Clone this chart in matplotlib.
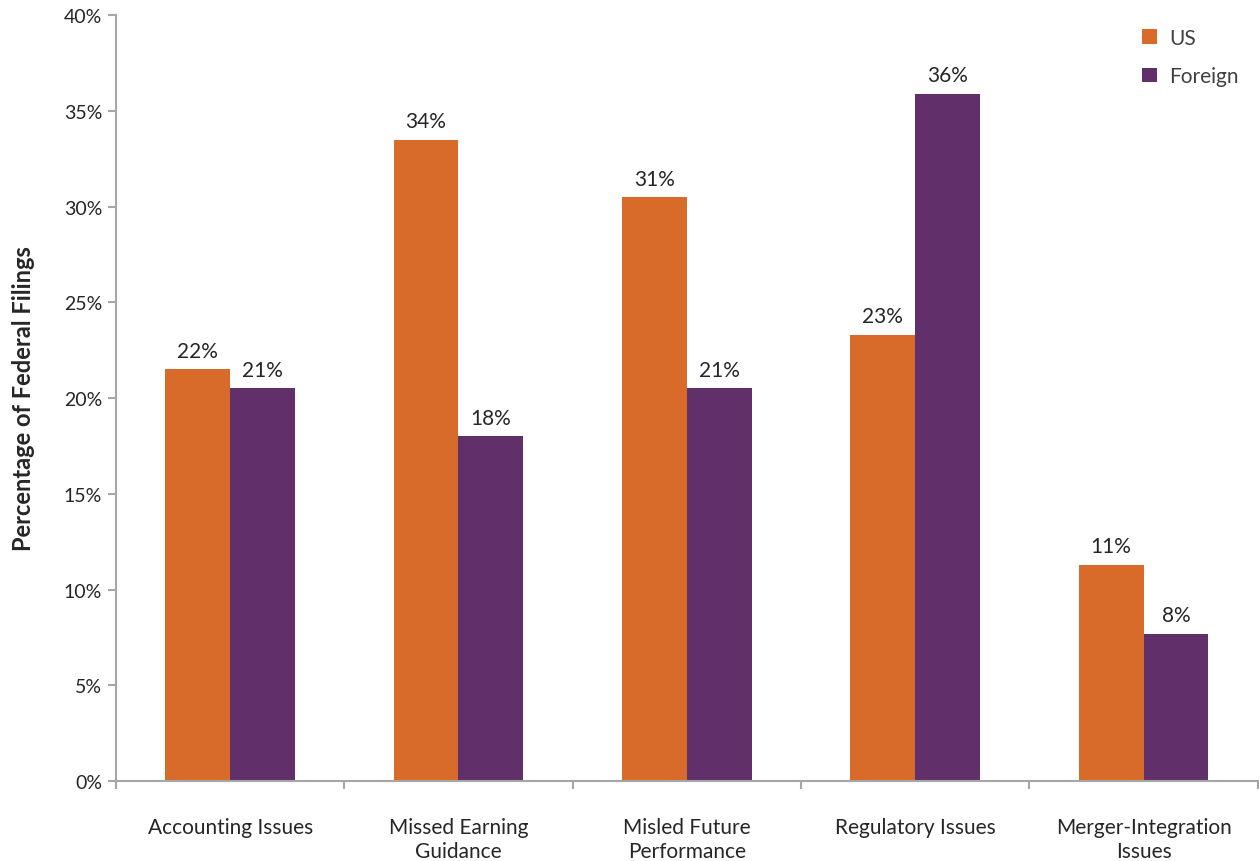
import numpy as np
from matplotlib import pyplot as plt

plt.rcParams['font.family'] = ['Lato', 'DejaVu Sans']

categories = ['Accounting Issues', 'Missed Earning\nGuidance', 'Misled Future\nPerformance',
              'Regulatory Issues', 'Merger-Integration\nIssues']
us = [21.5, 33.5, 30.5, 23.3, 11.3]
foreign = [20.5, 18.0, 20.5, 35.9, 7.7]
us_labels = ['22%', '34%', '31%', '23%', '11%']
foreign_labels = ['21%', '18%', '21%', '36%', '8%']

orange = '#D86B29'
purple = '#612F69'
grey = '#A6A6A6'
txt = '#262626'

fig = plt.figure(figsize=(12.59, 8.62), dpi=100)
ax = fig.add_axes([0.0921, 0.0928, 0.9069, 0.8886])

x = np.arange(len(categories))
w = 0.284
b1 = ax.bar(x - w / 2, us, w, color=orange, label='US')
b2 = ax.bar(x + w / 2, foreign, w, color=purple, label='Foreign')

for bars, labs in ((b1, us_labels), (b2, foreign_labels)):
    for r, lab in zip(bars, labs):
        ax.annotate(lab, (r.get_x() + r.get_width() / 2, r.get_height()),
                    xytext=(0, 6), textcoords='offset points',
                    ha='center', va='bottom', fontsize=15, color=txt)

ax.set_xlim(-0.5, len(categories) - 0.5)
ax.set_ylim(0, 40)
ax.set_yticks(np.arange(0, 41, 5))
ax.set_yticklabels(['{}%'.format(v) for v in range(0, 41, 5)])
ax.set_xticks(x)
ax.set_xticklabels(categories, fontsize=15, color=txt, linespacing=1.25)
ax.tick_params(axis='x', length=0, pad=26)
ax.set_xticks(np.arange(-0.5, len(categories)), minor=True)
ax.tick_params(axis='x', which='minor', length=6, color=grey, width=1.5)
ax.tick_params(axis='y', length=6, color=grey, width=1.5, labelsize=14,
               labelcolor=txt, pad=4)

for s in ('top', 'right'):
    ax.spines[s].set_visible(False)
for s in ('left', 'bottom'):
    ax.spines[s].set_color(grey)
    ax.spines[s].set_linewidth(1.5)

ax.set_ylabel('Percentage of Federal Filings', fontsize=17, fontweight='bold',
              color=txt, labelpad=21)

ax.legend(loc='upper right', frameon=False, fontsize=15, handlelength=0.7,
          handleheight=0.7, labelspacing=0.9, handletextpad=0.6,
          bbox_to_anchor=(1.0, 1.008), labelcolor='#404040')

fig.savefig('out.png', dpi=100)
